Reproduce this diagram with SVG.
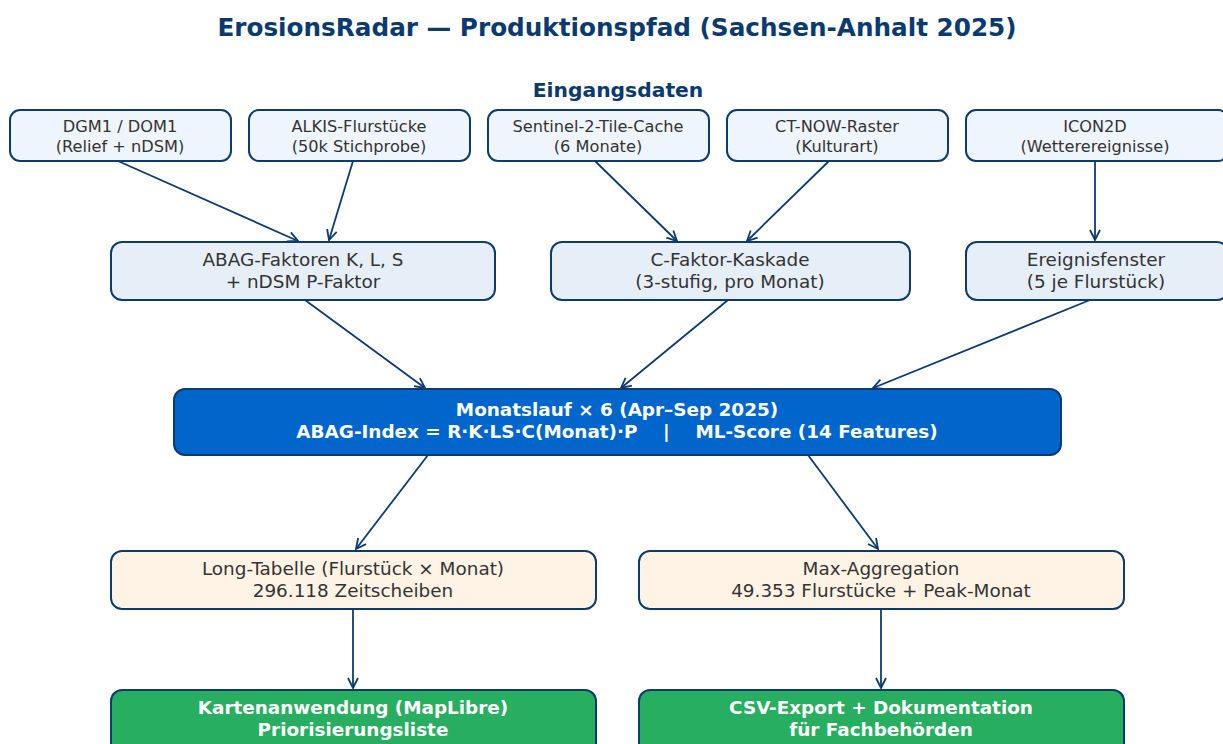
<svg xmlns="http://www.w3.org/2000/svg" width="1223" height="744" viewBox="0 0 1223 744">
<style>
text{font-family:"DejaVu Sans","Liberation Sans",sans-serif;text-anchor:middle;white-space:pre}
.title{font-size:24.7px;font-weight:bold;fill:#0b3a6e}
.sub{font-size:20.3px;font-weight:bold;fill:#0b3a6e}
.src rect{fill:#eff5fc;stroke:#0d3b6e;stroke-width:2}
.src text{font-size:16.2px;fill:#333}
.mid rect{fill:#e6eef8;stroke:#0d3b6e;stroke-width:2}
.mid text{font-size:18.4px;fill:#333}
.main rect{fill:#0066cc;stroke:#0d3b6e;stroke-width:2}
.main text{font-size:18.4px;font-weight:bold;fill:#fff}
.out rect{fill:#fff3e6;stroke:#0d3b6e;stroke-width:2}
.out text{font-size:18.4px;fill:#333}
.fin rect{fill:#27ae60;stroke:#0d3b6e;stroke-width:2}
.fin text{font-size:18.4px;font-weight:bold;fill:#fff}
.edges line{stroke:#0d3b6e;stroke-width:1.8;marker-end:url(#arr)}
</style>
<defs>
<marker id="arr" viewBox="0 0 12 12" refX="11" refY="6" markerWidth="12" markerHeight="12" markerUnits="userSpaceOnUse" orient="auto">
<path d="M1,1 L11,6 L1,11" fill="none" stroke="#0d3b6e" stroke-width="1.8"/>
</marker>
</defs>
<rect width="1223" height="744" fill="#fff"/>
<text class="title" x="617" y="36">ErosionsRadar — Produktionspfad (Sachsen-Anhalt 2025)</text>
<text class="sub" x="618" y="97">Eingangsdaten</text>

<g id="edges" class="edges">
<line x1="118" y1="161" x2="298" y2="241"/>
<line x1="353" y1="161" x2="329" y2="240"/>
<line x1="595" y1="161" x2="677" y2="241"/>
<line x1="829" y1="161" x2="747" y2="241"/>
<line x1="1095" y1="161" x2="1095" y2="240"/>
<line x1="305" y1="300" x2="425" y2="388"/>
<line x1="728" y1="300" x2="621" y2="388"/>
<line x1="1090" y1="300" x2="873" y2="388"/>
<line x1="428" y1="455" x2="356" y2="549"/>
<line x1="808" y1="455" x2="878" y2="549"/>
<line x1="353" y1="609" x2="353" y2="688"/>
<line x1="881" y1="609" x2="881" y2="688"/>
</g>

<g id="n-dgm" class="src"><rect x="10" y="110" width="221" height="51" rx="10"/><text x="120" y="132">DGM1 / DOM1</text><text x="120" y="152">(Relief + nDSM)</text></g>
<g id="n-alkis" class="src"><rect x="249" y="110" width="221" height="51" rx="10"/><text x="359" y="132">ALKIS-Flurstücke</text><text x="359" y="152">(50k Stichprobe)</text></g>
<g id="n-s2" class="src"><rect x="488" y="110" width="221" height="51" rx="10"/><text x="598" y="132">Sentinel-2-Tile-Cache</text><text x="598" y="152">(6 Monate)</text></g>
<g id="n-ctnow" class="src"><rect x="727" y="110" width="221" height="51" rx="10"/><text x="837" y="132">CT-NOW-Raster</text><text x="837" y="152">(Kulturart)</text></g>
<g id="n-icon" class="src"><rect x="966" y="110" width="262" height="51" rx="10"/><text x="1095" y="132">ICON2D</text><text x="1095" y="152">(Wetterereignisse)</text></g>

<g id="n-abag" class="mid"><rect x="111" y="242" width="384" height="58" rx="11"/><text x="303" y="266">ABAG-Faktoren K, L, S</text><text x="303" y="288">+ nDSM P-Faktor</text></g>
<g id="n-cfak" class="mid"><rect x="551" y="242" width="359" height="58" rx="11"/><text x="730" y="266">C-Faktor-Kaskade</text><text x="730" y="288">(3-stufig, pro Monat)</text></g>
<g id="n-event" class="mid"><rect x="966" y="242" width="262" height="58" rx="11"/><text x="1096" y="266">Ereignisfenster</text><text x="1096" y="288">(5 je Flurstück)</text></g>

<g id="n-main" class="main"><rect x="174" y="389" width="887" height="66" rx="11"/><text x="617" y="416">Monatslauf × 6 (Apr–Sep 2025)</text><text x="617" y="438">ABAG-Index = R·K·LS·C(Monat)·P    |    ML-Score (14 Features)</text></g>

<g id="n-long" class="out"><rect x="111" y="551" width="485" height="58" rx="11"/><text x="353" y="575">Long-Tabelle (Flurstück × Monat)</text><text x="353" y="597">296.118 Zeitscheiben</text></g>
<g id="n-max" class="out"><rect x="639" y="551" width="485" height="58" rx="11"/><text x="881" y="575">Max-Aggregation</text><text x="881" y="597">49.353 Flurstücke + Peak-Monat</text></g>

<g id="n-map" class="fin"><rect x="111" y="690" width="485" height="70" rx="11"/><text x="353" y="714">Kartenanwendung (MapLibre)</text><text x="353" y="736">Priorisierungsliste</text></g>
<g id="n-csv" class="fin"><rect x="639" y="690" width="485" height="70" rx="11"/><text x="881" y="714">CSV-Export + Dokumentation</text><text x="881" y="736">für Fachbehörden</text></g>
</svg>
